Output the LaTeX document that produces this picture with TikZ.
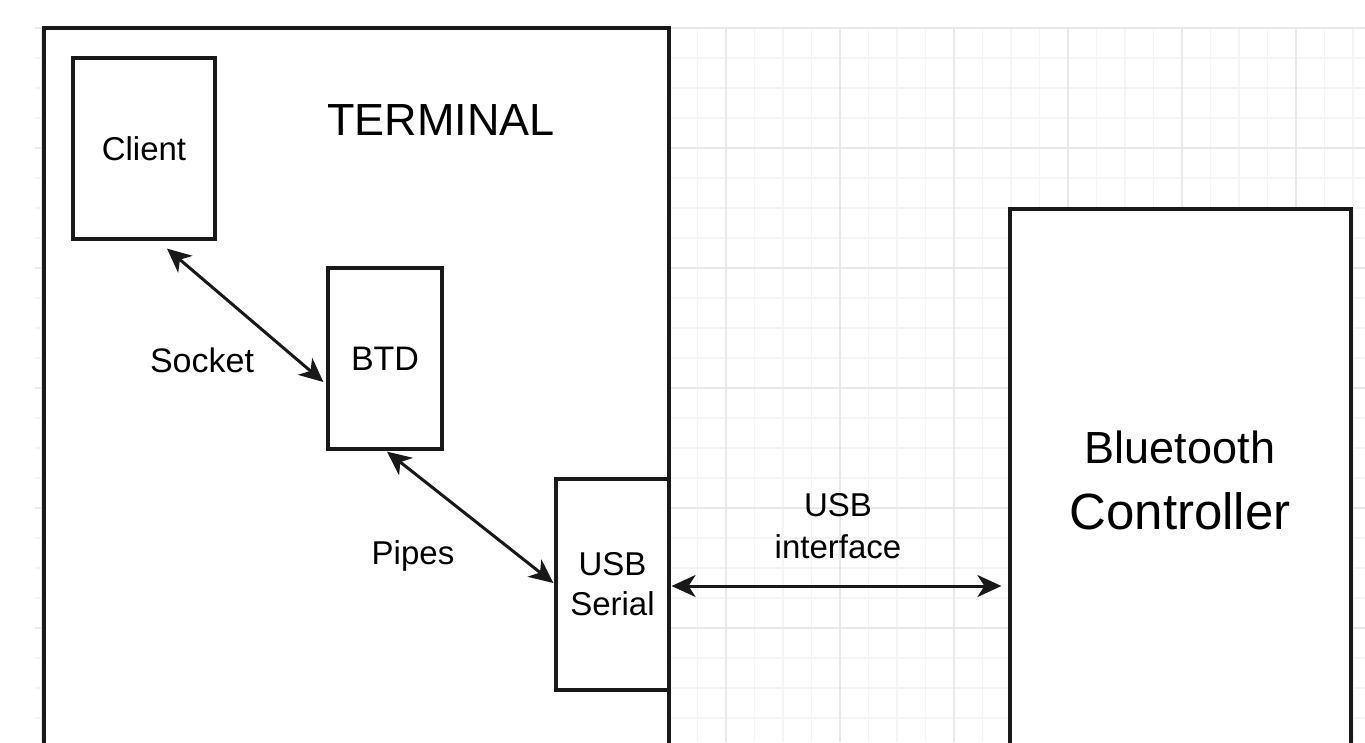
\documentclass[tikz,border=0pt]{standalone}
\usepackage{fontspec}
\setmainfont{Liberation Sans}
\usetikzlibrary{arrows.meta}
\definecolor{gridminor}{HTML}{F4F4F4}
\definecolor{gridmajor}{HTML}{E8E8E8}
\begin{document}
\begin{tikzpicture}[x=1pt,y=-1pt,
  blk/.style={draw=black!90, line width=3.2pt, fill=white, inner sep=0pt, align=center},
  lbl/.style={inner sep=0pt, align=center, text=black},
  conn/.style={{Stealth[length=24pt,width=22pt,inset=7pt]}-{Stealth[length=24pt,width=22pt,inset=7pt]}, line width=3pt, draw=black!90}
]
\useasboundingbox (0,0) rectangle (1365,742);
\clip (0,0) rectangle (1365,742);
% background grid
\foreach \k in {0,...,46} \draw[gridminor, line width=1.2pt] ({42+28.5*\k},28) -- ({42+28.5*\k},742);
\foreach \k in {0,...,23} \draw[gridminor, line width=1.2pt] (35,{28+30*\k}) -- (1365,{28+30*\k});
\foreach \k in {0,...,11} \draw[gridmajor, line width=1.4pt] ({42+114*\k},28) -- ({42+114*\k},742);
\foreach \k in {0,...,5} \draw[gridmajor, line width=1.4pt] (35,{28+120*\k}) -- (1365,{28+120*\k});

% boxes
\node[blk, minimum width=625pt, minimum height=732pt] (term) at (356.5,394) {};
\node[lbl, font=\fontsize{45}{54}\selectfont] (termlbl) at (441,120) {TERMINAL};
\node[blk, minimum width=142pt, minimum height=181pt, font=\fontsize{33}{40}\selectfont] (client) at (144,148.5) {Client};
\node[blk, minimum width=114pt, minimum height=181pt, font=\fontsize{34}{40}\selectfont] (btd) at (385,358.5) {BTD};
\node[blk, minimum width=113pt, minimum height=211pt, font=\fontsize{33}{40}\selectfont] (usb) at (612.5,584.5) {USB\\Serial};
\node[blk, minimum width=341pt, minimum height=551pt] (ctrl) at (1180.5,484.5) {};
\node[lbl, font=\fontsize{45}{54}\selectfont] (bt) at (1180,447) {Bluetooth};
\node[lbl, font=\fontsize{51}{60}\selectfont] (ct) at (1180,511) {Controller};

% labels
\node[lbl, font=\fontsize{34}{40}\selectfont] (socket) at (202,360) {Socket};
\node[lbl, font=\fontsize{33}{40}\selectfont] (pipes) at (413,556) {Pipes};
\node[lbl, font=\fontsize{33}{42}\selectfont] (usbif) at (838,526) {USB\\interface};

% connectors
\draw[conn] ([shift={(23,8)}]client.south) -- ([shift={(-3,23.5)}]btd.west);
\draw[conn] ([shift={(2,1)}]btd.south) -- ([shift={(-1,-1.5)}]usb.west);
\draw[conn] ([shift={(1,1.5)}]usb.east) -- ([shift={(-7,101.5)}]ctrl.west);
\end{tikzpicture}
\end{document}
